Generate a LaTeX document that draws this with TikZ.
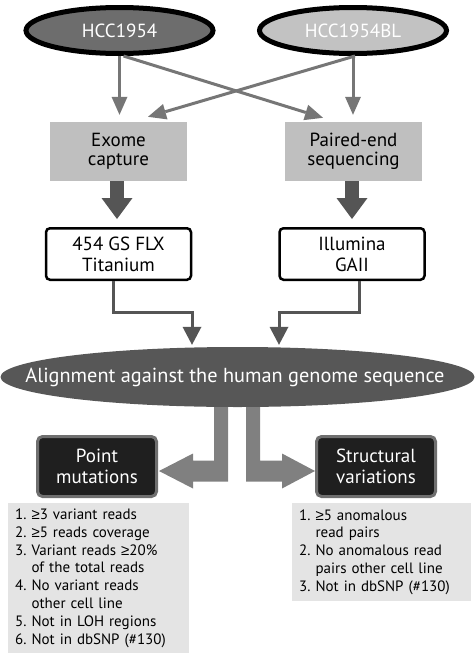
\documentclass[tikz,border=0pt]{standalone}
\usepackage{fontspec}
\setmainfont{PT Sans}
\newfontfamily\gefont{Liberation Sans}
\newcommand{\gee}{{\gefont ≥}}
\usetikzlibrary{arrows.meta,calc,shapes.geometric,backgrounds}
\definecolor{hdark}{HTML}{6D6D6D}
\definecolor{hlight}{HTML}{C2C2C2}
\definecolor{thinarr}{HTML}{767676}
\definecolor{boxgray}{HTML}{BFBFBF}
\definecolor{darkarr}{HTML}{555555}
\definecolor{alfill}{HTML}{575757}
\definecolor{fatgray}{HTML}{808080}
\definecolor{resfill}{HTML}{1F1F1F}
\definecolor{resline}{HTML}{6F6F6F}
\definecolor{critfill}{HTML}{E4E4E4}
\begin{document}
\frenchspacing
\begin{tikzpicture}[x=1pt,y=-1pt,
  mainfont/.style={font=\fontsize{19}{#1}\selectfont},
  cellline/.style={ellipse,draw=black,line width=5pt,inner sep=0pt,
    minimum width=187pt,minimum height=46pt,text=white,mainfont=19},
  stepbox/.style={rectangle,fill=boxgray,inner sep=0pt,minimum width=137pt,
    minimum height=59pt,align=center,mainfont=19},
  platform/.style={rectangle,rounded corners=4pt,draw=black,line width=2.5pt,
    fill=white,inner sep=0pt,minimum width=145pt,minimum height=51.5pt,
    align=center,mainfont=21},
  result/.style={rectangle,rounded corners=5pt,draw=resline,line width=3pt,
    fill=resfill,text=white,inner sep=0pt,minimum width=119pt,
    minimum height=60pt,align=center,mainfont=21},
  crit/.style={rectangle,fill=critfill,inner xsep=7pt,inner ysep=0pt,
    align=left,font=\fontsize{15}{17.9}\selectfont\frenchspacing},
  thin/.style={draw=thinarr,line width=3pt,
    -{Triangle[length=18pt,width=16pt,line width=0pt]}},
  fatdark/.style={draw=darkarr,line width=14pt,
    -{Triangle[length=21pt,width=31pt,line width=0pt]}},
  elbow/.style={draw=darkarr,line width=3pt,
    -{Triangle[length=18pt,width=19pt,line width=0pt]}}
]
\useasboundingbox (0,0) rectangle (475,656);

% cell lines
\node[cellline,fill=hdark] (h1) at (119.5,30.5) {HCC1954};
\node[cellline,fill=hlight] (h2) at (353,30.5) {HCC1954BL};

% steps
\node[stepbox] (ex) at (118.5,151.5) {Exome\\capture};
\node[stepbox] (pe) at (353.5,151.5) {Paired-end\\sequencing};

% platforms
\node[platform] (t4) at (118.5,254) {454 GS FLX\\Titanium};
\node[platform] (il) at (352,254) {Illumina\\GAII};

% alignment
\node[ellipse,fill=alfill,inner sep=0pt,minimum width=474pt,minimum height=60pt,
  text=white,font=\fontsize{20.3}{20}\selectfont] (al) at (237.5,377)
  {\makebox[0pt]{\hspace*{-5pt}Alignment against the human genome sequence}};

% results
\node[result] (pm) at (97,466.5) {Point\\mutations};
\node[result] (sv) at (376,466.5) {Structural\\variations};

% criteria
\node[crit,text width=167pt,minimum height=150pt,anchor=north west] (c1) at (8,503)
  {1. \gee3 variant reads\\
   2. \gee5 reads coverage\\
   3. Variant reads \gee20\%\\
   \phantom{3.}\ of the total reads\\
   4. No variant reads\\
   \phantom{4.}\ other cell line\\
   5. Not in LOH regions\\
   6. Not in dbSNP (\#130)};
\node[crit,text width=165pt,minimum height=98pt,anchor=north west] (c2) at (292,503)
  {1. \gee5 anomalous\\
   \phantom{1.}\ read pairs\\
   2. No anomalous read\\
   \phantom{2.}\ pairs other cell line\\
   3. Not in dbSNP (\#130)};

% thin arrows
\draw[thin] (h1.south) -- (h1.south |- ex.north) [shorten >=7pt];
\draw[thin] ($(h1.south)+(4,0)$) -- ($(pe.north)+(-30.5,-4)$);
\draw[thin] ($(h2.south)+(2,0)$) -- ($(ex.north)+(29.5,-5)$);
\draw[thin] (h2.south) -- (h2.south |- pe.north) [shorten >=7pt];

% fat dark arrows
\draw[fatdark,shorten >=8pt] ($(ex.south)+(-1.5,0)$) -- ($(ex.south |- t4.north)+(-1.5,0)$);
\draw[fatdark,shorten >=8pt] ($(pe.south)+(-1.5,0)$) -- ($(pe.south |- t4.north)+(-1.5,0)$);

% elbow arrows
\draw[elbow] ($(t4.south)+(-5.5,0)$) -- ++(0,31) -| ($(al.north)+(-45.5,-2)$);
\draw[elbow] ($(il.south)+(7,0)$) -- ++(0,31) -| ($(al.north)+(41.5,-2)$);

% fat gray split arrows
\begin{pgfonlayer}{background}
\coordinate (lt) at ($(pm.east)+(1,4.5)$);
\coordinate (ls) at ($(al.south)+(-23.5,-12)$);
\fill[fatgray] (ls) -- ++(14,0) -- ($(lt)+(69,10.5)$) -- ($(lt)+(34,10.5)$)
  -- ($(lt)+(34,17.5)$) -- (lt) -- ($(lt)+(34,-17.5)$) -- ($(lt)+(34,-10.5)$)
  -- ($(lt)+(55,-10.5)$) -- cycle;
\coordinate (rt) at ($(sv.west)+(0,4.5)$);
\coordinate (rs) at ($(al.south)+(8.5,-12)$);
\fill[fatgray] (rs) -- ++(14,0) -- ($(rt)+(-55,-10.5)$) -- ($(rt)+(-33,-10.5)$)
  -- ($(rt)+(-33,-17.5)$) -- (rt) -- ($(rt)+(-33,17.5)$) -- ($(rt)+(-33,10.5)$)
  -- ($(rt)+(-69,10.5)$) -- cycle;
\end{pgfonlayer}
\end{tikzpicture}
\end{document}
